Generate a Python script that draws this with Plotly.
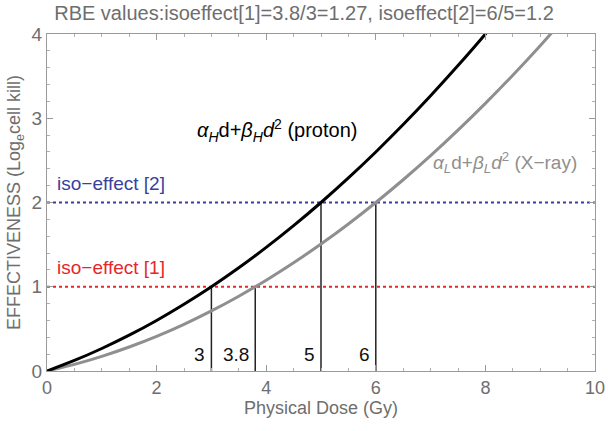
import plotly.graph_objects as go

# dose points (Gy) and effect
dose_proton = [0, 0.5, 1, 1.5, 2, 2.5, 3, 3.5, 4, 4.5, 5, 5.5, 6, 6.5, 7, 7.5, 8, 8.1]
effect_proton = [0, 0.125, 0.267, 0.425, 0.6, 0.792, 1.0, 1.225, 1.467, 1.725,
                 2.0, 2.292, 2.6, 2.925, 3.267, 3.625, 4.0, 4.08]

dose_xray = [0, 0.5, 1, 1.5, 2, 2.5, 3, 3.5, 4, 4.5, 5, 5.5, 6, 6.5, 7, 7.5,
             8, 8.5, 9, 9.5]
effect_xray = [0, 0.079, 0.174, 0.285, 0.411, 0.554, 0.713, 0.888, 1.078, 1.285,
               1.507, 1.745, 2.0, 2.270, 2.556, 2.859, 3.177, 3.511, 3.861, 4.23]

# iso-effect levels and the doses that reach them
iso_levels = [1, 2]
iso_names = ["iso\u2212effect [1]", "iso\u2212effect [2]"]
iso_colors = ["#e8262a", "#3a3f9e"]
iso_doses = [3, 3.8, 5, 6]
iso_dose_levels = [1, 1, 2, 2]
iso_dose_labels = ["3", "3.8", "5", "6"]

grey = "#6e6e6e"
font = "Liberation Sans, Arial, sans-serif"

fig = go.Figure()

# iso-effect dotted lines
for lvl, col in zip(iso_levels, iso_colors):
    fig.add_trace(go.Scatter(x=[0, 10], y=[lvl, lvl], mode="lines",
                             line=dict(color=col, width=2, dash="dot"),
                             showlegend=False, hoverinfo="skip"))

# vertical drop lines
for d, lvl in zip(iso_doses, iso_dose_levels):
    fig.add_trace(go.Scatter(x=[d, d], y=[0, lvl], mode="lines",
                             line=dict(color="#222222", width=1.5),
                             showlegend=False, hoverinfo="skip"))

fig.add_trace(go.Scatter(x=dose_xray, y=effect_xray, mode="lines",
                         line=dict(color="#8f8f8f", width=3, shape="spline"),
                         showlegend=False))
fig.add_trace(go.Scatter(x=dose_proton, y=effect_proton, mode="lines",
                         line=dict(color="#000000", width=3, shape="spline"),
                         showlegend=False))

# labels
for d, lab in zip(iso_doses, iso_dose_labels):
    fig.add_annotation(x=d, y=0.19, text=lab, showarrow=False, xanchor="right",
                       xshift=-4, font=dict(size=19, color="#111111", family=font))

for lvl, name, col in zip(iso_levels, iso_names, iso_colors):
    fig.add_annotation(x=0.14, y=lvl, text=name, showarrow=False, xanchor="left",
                       yanchor="bottom", yshift=7, font=dict(size=19, color=col, family=font))

fig.add_annotation(x=2.7, y=2.85, xanchor="left", showarrow=False,
                   text="<i>α<sub>H</sub></i>d+<i>β<sub>H</sub>d</i><sup>2</sup> (proton)",
                   font=dict(size=20, color="#000000", family=font))
fig.add_annotation(x=7.0, y=2.47, xanchor="left", showarrow=False,
                   text="<i>α<sub>L</sub></i>d+<i>β<sub>L</sub>d</i><sup>2</sup> (X\u2212ray)",
                   font=dict(size=19, color="#8f8f8f", family=font))

axis_common = dict(showline=True, linecolor="#9a9a9a", linewidth=1, mirror="allticks",
                   ticks="inside", ticklen=6, tickcolor="#9a9a9a", showgrid=False,
                   zeroline=False, automargin=False)

fig.update_xaxes(range=[0, 10], dtick=2, tick0=0,
                 tickfont=dict(size=18, color=grey, family=font),
                 minor=dict(dtick=0.5, ticks="inside", ticklen=3, tickcolor="#b0b0b0"),
                 title=dict(text="Physical Dose (Gy)", standoff=4,
                            font=dict(size=18, color=grey, family=font)),
                 **axis_common)
fig.update_yaxes(range=[0, 4], dtick=1, tick0=0,
                 tickfont=dict(size=19, color=grey, family=font),
                 minor=dict(dtick=0.2, ticks="inside", ticklen=3, tickcolor="#b0b0b0"),
                 title=dict(text="EFFECTIVENESS (Log<sub>e</sub>cell kill)", standoff=6,
                            font=dict(size=18, color=grey, family=font)),
                 **axis_common)

fig.update_layout(
    width=608, height=431,
    margin=dict(l=47, r=13, t=34, b=60),
    plot_bgcolor="white", paper_bgcolor="white",
    title=dict(text="RBE values:isoeffect[1]=3.8/3=1.27, isoeffect[2]=6/5=1.2",
               x=0.5, xanchor="center", y=0.97, yanchor="middle",
               font=dict(size=20, color=grey, family=font)),
)

# drop the browser's default page margin so the figure sits at the window corner
fig.write_html("out.html", config={"displayModeBar": False},
               post_script="document.body.style.margin='0';")
